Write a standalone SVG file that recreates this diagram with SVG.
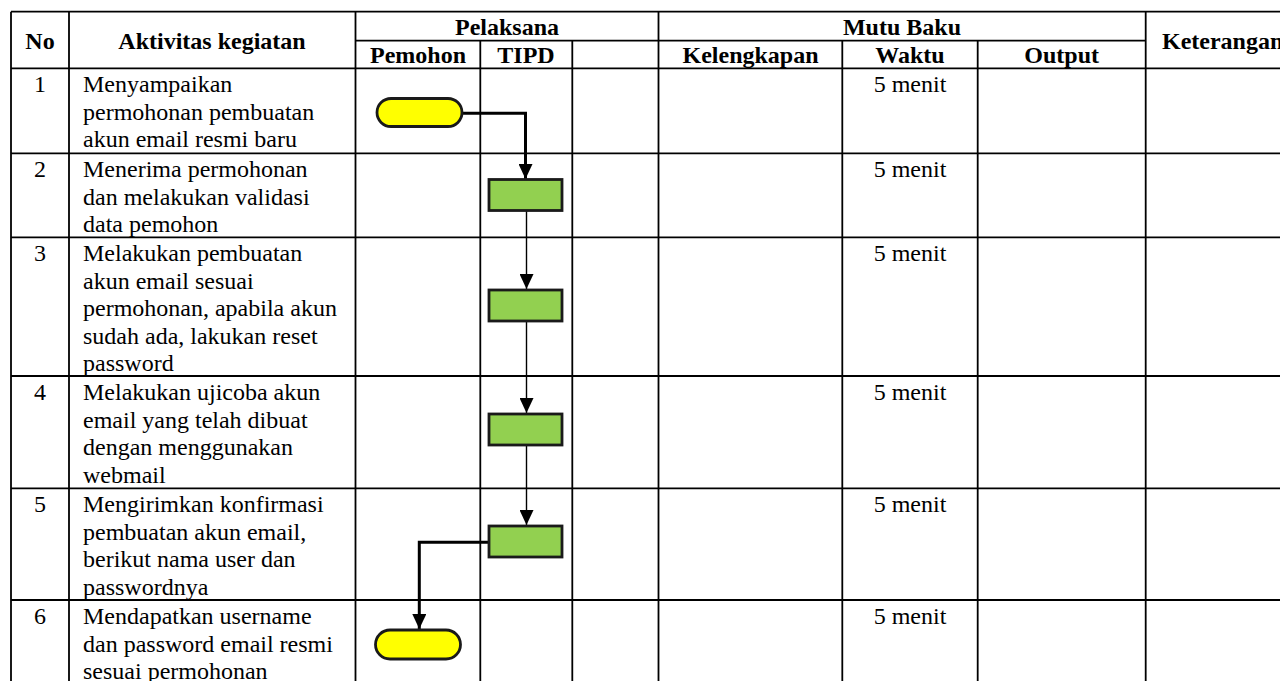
<svg xmlns="http://www.w3.org/2000/svg" width="1280" height="681" viewBox="0 0 1280 681">
<style>
.grid{stroke:#000;stroke-width:1.8;fill:none}
.h{font-family:"Liberation Serif","Times New Roman",serif;font-size:24px;font-weight:bold;fill:#000}
.t{font-family:"Liberation Serif","Times New Roman",serif;font-size:24px;fill:#000}
.c{text-anchor:middle}
.term{fill:#FFFF00;stroke:#1a1a1a;stroke-width:2.8}
.proc{fill:#92D050;stroke:#1a1a1a;stroke-width:2.8}
.thick{stroke:#000;stroke-width:3;fill:none}
.thin{stroke:#000;stroke-width:1.4;fill:none}
</style>
<defs>
<marker id="ah" viewBox="0 0 15 14" refX="15" refY="7" markerWidth="15" markerHeight="14" markerUnits="userSpaceOnUse" orient="auto">
<path d="M0,0 L15,7 L0,14 Z" fill="#000"/>
</marker>
</defs>
<rect width="1280" height="681" fill="#fff"/>
<g id="table" class="grid">
<line x1="11" y1="11.7" x2="1280" y2="11.7"/>
<line x1="355.5" y1="40.7" x2="1145.7" y2="40.7"/>
<line x1="11" y1="68.3" x2="1280" y2="68.3"/>
<line x1="11" y1="153.3" x2="1280" y2="153.3"/>
<line x1="11" y1="237.3" x2="1280" y2="237.3"/>
<line x1="11" y1="376" x2="1280" y2="376"/>
<line x1="11" y1="488.3" x2="1280" y2="488.3"/>
<line x1="11" y1="600" x2="1280" y2="600"/>
<line x1="11" y1="11.7" x2="11" y2="681"/>
<line x1="69" y1="11.7" x2="69" y2="681"/>
<line x1="355.5" y1="11.7" x2="355.5" y2="681"/>
<line x1="480.3" y1="40.7" x2="480.3" y2="681"/>
<line x1="572.3" y1="40.7" x2="572.3" y2="681"/>
<line x1="658.5" y1="11.7" x2="658.5" y2="681"/>
<line x1="842.3" y1="40.7" x2="842.3" y2="681"/>
<line x1="977.7" y1="40.7" x2="977.7" y2="681"/>
<line x1="1145.7" y1="11.7" x2="1145.7" y2="681"/>
</g>
<g id="header">
<text class="h c" x="40" y="49">No</text>
<text class="h c" x="212" y="49">Aktivitas kegiatan</text>
<text class="h c" x="507" y="35">Pelaksana</text>
<text class="h c" x="418" y="63">Pemohon</text>
<text class="h c" x="526" y="63">TIPD</text>
<text class="h c" x="902" y="35">Mutu Baku</text>
<text class="h c" x="750.5" y="63">Kelengkapan</text>
<text class="h c" x="910" y="63">Waktu</text>
<text class="h c" x="1061.7" y="63">Output</text>
<text class="h" x="1162" y="48.5">Keterangan</text>
</g>
<g id="row1">
<text class="t c" x="40" y="92">1</text>
<text class="t" x="83" y="92">Menyampaikan</text>
<text class="t" x="83" y="119.6">permohonan pembuatan</text>
<text class="t" x="83" y="147.2">akun email resmi baru</text>
<text class="t c" x="910" y="92">5 menit</text>
</g>
<g id="row2">
<text class="t c" x="40" y="177">2</text>
<text class="t" x="83" y="177">Menerima permohonan</text>
<text class="t" x="83" y="204.6">dan melakukan validasi</text>
<text class="t" x="83" y="232.2">data pemohon</text>
<text class="t c" x="910" y="177">5 menit</text>
</g>
<g id="row3">
<text class="t c" x="40" y="261">3</text>
<text class="t" x="83" y="261">Melakukan pembuatan</text>
<text class="t" x="83" y="288.6">akun email sesuai</text>
<text class="t" x="83" y="316.2">permohonan, apabila akun</text>
<text class="t" x="83" y="343.8">sudah ada, lakukan reset</text>
<text class="t" x="83" y="371.4">password</text>
<text class="t c" x="910" y="261">5 menit</text>
</g>
<g id="row4">
<text class="t c" x="40" y="400">4</text>
<text class="t" x="83" y="400">Melakukan ujicoba akun</text>
<text class="t" x="83" y="427.6">email yang telah dibuat</text>
<text class="t" x="83" y="455.2">dengan menggunakan</text>
<text class="t" x="83" y="482.8">webmail</text>
<text class="t c" x="910" y="400">5 menit</text>
</g>
<g id="row5">
<text class="t c" x="40" y="512">5</text>
<text class="t" x="83" y="512">Mengirimkan konfirmasi</text>
<text class="t" x="83" y="539.6">pembuatan akun email,</text>
<text class="t" x="83" y="567.2">berikut nama user dan</text>
<text class="t" x="83" y="594.8">passwordnya</text>
<text class="t c" x="910" y="512">5 menit</text>
</g>
<g id="row6">
<text class="t c" x="40" y="624">6</text>
<text class="t" x="83" y="624">Mendapatkan username</text>
<text class="t" x="83" y="651.6">dan password email resmi</text>
<text class="t" x="83" y="679.2">sesuai permohonan</text>
<text class="t c" x="910" y="624">5 menit</text>
</g>
<g id="connectors">
<path class="thick" d="M462,113.3 H525.5 V179" marker-end="url(#ah)"/>
<path class="thin" d="M526.5,211 V289" marker-end="url(#ah)"/>
<path class="thin" d="M526.5,321 V413" marker-end="url(#ah)"/>
<path class="thin" d="M526.5,445 V525" marker-end="url(#ah)"/>
<path class="thick" d="M489,542.3 H419.3 V629" marker-end="url(#ah)"/>
</g>
<g id="n1"><rect class="term" x="377" y="98.5" width="85" height="28" rx="14"/></g>
<g id="n2"><rect class="proc" x="489" y="179.5" width="73" height="31"/></g>
<g id="n3"><rect class="proc" x="489" y="290" width="73" height="31"/></g>
<g id="n4"><rect class="proc" x="489" y="414" width="73" height="31"/></g>
<g id="n5"><rect class="proc" x="489" y="526" width="73" height="31"/></g>
<g id="n6"><rect class="term" x="375.5" y="630" width="85" height="29" rx="14.5"/></g>
</svg>
